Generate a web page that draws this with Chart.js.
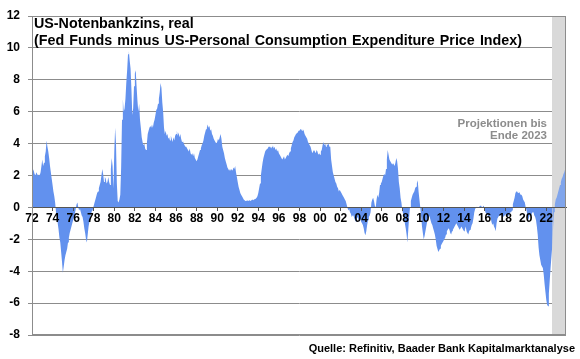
<!DOCTYPE html>
<html>
<head>
<meta charset="utf-8">
<script src="https://cdn.jsdelivr.net/npm/chart.js@4.4.0/dist/chart.umd.min.js"></script>
<style>
  html, body { margin: 0; padding: 0; background: #fff; }
  #wrap { width: 580px; height: 359px; }
</style>
</head>
<body>
<div id="wrap"><canvas id="myChart" width="580" height="359"></canvas></div>
<script>
// Real Fed Funds rate (Fed Funds minus PCE inflation), monthly, Jan 1972 .. Aug 2022
const firstYear = 1972;
const realRate = [
  2.2, 2.4, 2.3, 2.1, 2.0, 2.2, 2.1, 2.0, 2.1, 2.0, 2.2, 2.6,         // 1972
  3.0, 2.6, 2.8, 3.2, 3.5, 4.2, 3.8, 3.5, 3.1, 2.6, 2.2, 1.8,         // 1973
  1.4, 1.0, 0.7, 0.3, -0.3, -0.6, -1.0, -1.4, -1.9, -2.2, -2.8, -3.4, // 1974
  -4.1, -3.7, -3.3, -3.0, -2.8, -2.6, -2.2, -1.9, -1.6, -1.4, -1.2, -1.0, // 1975
  -0.8, -0.6, -0.4, -0.1, 0.2, 0.3, 0.0, -0.2, -0.1, -0.3, -0.5, -0.6, // 1976
  -0.9, -1.3, -1.6, -2.0, -2.2, -1.7, -1.2, -0.9, -0.6, -0.4, -0.2, -0.1, // 1977
  0.1, 0.3, 0.5, 0.7, 0.9, 1.0, 1.2, 1.4, 1.6, 2.0, 2.4, 2.1,         // 1978
  1.6, 1.9, 1.8, 1.5, 1.6, 1.9, 1.6, 1.4, 2.4, 3.1, 2.6, 1.2,         // 1979
  3.5, 5.0, 4.0, 1.5, 0.4, 0.3, 0.5, 0.8, 2.5, 5.5, 6.8, 6.0,         // 1980
  6.2, 6.8, 7.8, 8.6, 9.6, 9.8, 9.2, 8.7, 7.4, 5.8, 6.2, 7.6,         // 1981
  8.4, 8.6, 7.6, 6.7, 6.0, 6.5, 5.5, 5.0, 4.4, 4.1, 3.9, 4.0,         // 1982
  3.7, 3.6, 4.0, 4.6, 4.8, 5.0, 5.1, 5.0, 5.2, 5.0, 5.3, 5.5,         // 1983
  5.8, 6.1, 6.2, 6.5, 6.8, 7.2, 7.8, 7.5, 6.6, 6.0, 5.0, 4.6,         // 1984
  4.8, 4.5, 4.6, 4.3, 4.4, 4.2, 4.5, 4.3, 4.1, 4.4, 4.2, 4.5,         // 1985
  4.6, 4.8, 4.5, 4.7, 4.4, 4.6, 4.3, 4.1, 4.2, 4.0, 3.9, 3.8,         // 1986
  3.8, 3.7, 3.6, 3.5, 3.7, 3.4, 3.3, 3.4, 3.2, 3.4, 3.1, 3.0,         // 1987
  2.9, 3.0, 3.2, 3.4, 3.6, 3.7, 3.9, 4.0, 4.2, 4.5, 4.7, 4.9,         // 1988
  5.0, 5.2, 5.0, 5.1, 4.8, 4.9, 4.6, 4.5, 4.3, 4.2, 4.1, 4.0,         // 1989
  4.1, 4.3, 4.2, 4.4, 4.6, 4.3, 3.8, 3.6, 3.4, 3.1, 2.9, 2.7,         // 1990
  2.5, 2.4, 2.3, 2.4, 2.3, 2.4, 2.3, 2.5, 2.4, 2.6, 2.2, 1.9,         // 1991
  1.6, 1.3, 1.1, 0.9, 0.8, 0.7, 0.6, 0.5, 0.45, 0.4, 0.4, 0.45,       // 1992
  0.4, 0.4, 0.45, 0.4, 0.45, 0.5, 0.45, 0.5, 0.5, 0.55, 0.6, 0.7,     // 1993
  0.9, 1.2, 1.5, 2.0, 2.4, 2.8, 3.1, 3.3, 3.5, 3.6, 3.6, 3.7,         // 1994
  3.8, 3.8, 3.8, 3.7, 3.8, 3.9, 3.7, 3.8, 3.6, 3.7, 3.5, 3.6,         // 1995
  3.4, 3.3, 3.2, 3.1, 3.0, 3.1, 3.2, 3.0, 3.1, 3.2, 3.3, 3.2,         // 1996
  3.4, 3.5, 3.7, 3.9, 4.1, 4.2, 4.4, 4.5, 4.6, 4.6, 4.7, 4.8,         // 1997
  4.8, 4.9, 4.9, 4.8, 4.9, 4.8, 4.6, 4.5, 4.4, 4.3, 4.1, 4.0,         // 1998
  3.9, 3.8, 3.6, 3.4, 3.5, 3.6, 3.5, 3.4, 3.6, 3.5, 3.3, 3.4,         // 1999
  3.3, 3.5, 3.6, 3.9, 4.1, 3.9, 4.0, 3.8, 4.0, 3.9, 4.0, 3.8,         // 2000
  3.8, 3.0, 2.6, 2.2, 2.0, 1.8, 1.6, 1.5, 1.3, 1.2, 1.0, 1.1,         // 2001
  1.0, 0.9, 0.8, 0.7, 0.6, 0.5, 0.4, 0.2, 0.0, -0.2, -0.1, -0.3,      // 2002
  -0.4, -0.6, -0.5, -0.5, -0.7, -0.8, -0.9, -0.7, -0.6, -0.8, -0.9, -0.7, // 2003
  -0.9, -1.0, -1.1, -1.3, -1.6, -1.75, -1.5, -1.1, -0.8, -0.6, -0.5, -0.3, // 2004
  0.3, 0.5, 0.6, 0.4, 0.1, 0.0, 0.5, 0.8, 0.6, 0.9, 1.4, 1.5,         // 2005
  1.6, 1.8, 2.0, 2.1, 2.0, 2.4, 3.0, 3.6, 3.3, 3.0, 2.9, 2.8,         // 2006
  2.7, 2.8, 2.7, 2.6, 2.8, 3.1, 2.9, 2.4, 1.6, 1.2, 0.6, 0.3,         // 2007
  -0.2, -0.4, -0.7, -1.0, -1.3, -1.7, -2.2, -1.4, -0.6, 0.0, 0.4, 0.6, // 2008
  0.8, 0.9, 1.0, 1.2, 1.3, 1.5, 1.7, 1.0, 0.5, 0.0, -0.6, -1.2,       // 2009
  -1.6, -2.0, -1.8, -1.5, -1.2, -0.9, -0.6, -0.5, -0.6, -0.8, -1.0, -1.1, // 2010
  -1.3, -1.5, -1.7, -2.0, -2.4, -2.6, -2.8, -2.7, -2.6, -2.4, -2.3, -2.2, // 2011
  -2.1, -2.0, -1.9, -1.7, -1.5, -1.4, -1.3, -1.4, -1.6, -1.7, -1.5, -1.4, // 2012
  -1.3, -1.2, -1.1, -1.0, -1.1, -1.2, -1.3, -1.4, -1.3, -1.2, -1.3, -1.4, // 2013
  -1.5, -1.4, -1.2, -1.5, -1.6, -1.7, -1.5, -1.4, -1.3, -1.1, -1.0, -0.7, // 2014
  -0.3, -0.1, 0.0, 0.05, 0.0, 0.0, 0.05, 0.1, 0.1, 0.0, 0.05, 0.1,    // 2015
  -0.1, -0.3, -0.4, -0.4, -0.5, -0.6, -0.5, -0.6, -0.9, -1.1, -1.0, -1.2, // 2016
  -1.3, -1.5, -1.0, -0.7, -0.6, -0.5, -0.5, -0.4, -0.5, -0.5, -0.6, -0.5, // 2017
  -0.5, -0.4, -0.5, -0.6, -0.5, -0.4, -0.3, -0.3, -0.2, 0.2, 0.4, 0.6, // 2018
  0.9, 1.0, 1.0, 0.9, 1.0, 0.9, 0.8, 0.8, 0.7, 0.5, 0.4, 0.3,         // 2019
  0.0, -0.2, -0.5, -0.8, -0.6, -0.4, -0.6, -0.4, -0.3, -0.3, -0.5, -0.6, // 2020
  -0.8, -1.2, -1.7, -2.5, -3.0, -3.3, -3.6, -3.7, -3.8, -4.2, -4.8, -5.3, // 2021
  -5.8, -6.1, -6.2, -5.4, -4.6, -3.8, -3.1, -2.4                       // 2022 Jan-Aug
];
// projection Sep 2022 .. Dec 2023
const projection = [-1.2, -0.3, 0.2, 0.5, 0.6, 0.8, 1.0, 1.2, 1.4, 1.6, 1.8, 1.9, 2.1, 2.2, 2.4, 2.5];

const yMin = -8, yMax = 12, yStep = 2;

const titleLines = [
  "US-Notenbankzins, real",
  "(Fed Funds minus US-Personal Consumption Expenditure Price Index)"
];
const projNote = ["Projektionen bis", "Ende 2023"];
const sourceNote = "Quelle: Refinitiv, Baader Bank Kapitalmarktanalyse";

const FONT = "'Liberation Sans', Arial, sans-serif";
const BLUE = 'rgb(98, 145, 238)';
const BLUE_PROJ = 'rgb(128, 165, 236)';
const GRID = '#8c8c8c';

// one label per month
const total = realRate.length + projection.length;
const labels = [];
for (let i = 0; i < total; i++) {
  labels.push((firstYear + Math.floor(i / 12)) + '-' + String(i % 12 + 1).padStart(2, '0'));
}

const histData = realRate.concat(projection.map(() => null));
const projData = realRate.map((v, i) => i === realRate.length - 1 ? v : null).concat(projection);

// draw a line of words spread out to a given width
function spreadText(ctx, text, x, y, width) {
  const words = text.split(' ');
  const used = words.reduce((s, w) => s + ctx.measureText(w).width, 0);
  const gap = (width - used) / (words.length - 1);
  let cx = x;
  words.forEach(w => {
    ctx.fillText(w, cx, y);
    cx += ctx.measureText(w).width + gap;
  });
}

const decorations = {
  id: 'decorations',
  beforeDatasetsDraw(chart) {
    const { ctx, chartArea: a, scales: { x } } = chart;
    const x0 = Math.round(x.getPixelForValue(realRate.length - 0.8));
    ctx.save();
    ctx.fillStyle = '#d9d9d9';
    ctx.fillRect(x0, a.top, a.right - x0, a.bottom - a.top);
    ctx.restore();
  },
  afterDraw(chart) {
    const { ctx, chartArea: a } = chart;
    ctx.save();
    // frame round the plot
    ctx.strokeStyle = GRID;
    ctx.lineWidth = 1;
    ctx.strokeRect(Math.round(a.left) + 0.5, Math.round(a.top) + 0.5,
      Math.round(a.right - a.left) - 1, Math.round(a.bottom - a.top) - 1);

    // title
    ctx.fillStyle = '#000';
    ctx.font = 'bold 14.3px ' + FONT;
    ctx.textAlign = 'left';
    ctx.textBaseline = 'alphabetic';
    ctx.fillText(titleLines[0], 34, 28);
    spreadText(ctx, titleLines[1], 34, 45, 488);

    // projection note
    ctx.fillStyle = '#8c8c8c';
    ctx.font = 'bold 11.5px ' + FONT;
    ctx.textAlign = 'right';
    ctx.fillText(projNote[0], 547, 127);
    ctx.fillText(projNote[1], 547, 139);

    // source
    ctx.fillStyle = '#000';
    ctx.font = 'bold 11px ' + FONT;
    ctx.fillText(sourceNote, 575, 352);
    ctx.restore();
  }
};

const ctx = document.getElementById('myChart');
new Chart(ctx, {
  type: 'line',
  data: {
    labels: labels,
    datasets: [{
      data: histData,
      fill: 'origin',
      backgroundColor: BLUE,
      borderColor: 'transparent',
      borderWidth: 0,
      pointRadius: 0,
      tension: 0
    }, {
      data: projData,
      fill: 'origin',
      backgroundColor: BLUE_PROJ,
      borderColor: 'transparent',
      borderWidth: 0,
      pointRadius: 0,
      tension: 0
    }]
  },
  options: {
    responsive: false,
    animation: false,
    devicePixelRatio: 1,
    layout: { padding: { top: 16, right: 14, bottom: 24, left: 0 } },
    plugins: {
      legend: { display: false },
      tooltip: { enabled: false }
    },
    scales: {
      x: {
        type: 'category',
        position: { y: 0 },
        afterBuildTicks(axis) {
          axis.ticks = axis.ticks.filter(t => t.value % 24 === 0);
        },
        grid: { drawOnChartArea: false, drawTicks: true, tickLength: 3, tickColor: '#555', z: 1 },
        border: { display: true, color: '#555', width: 1, z: 1 },
        ticks: {
          z: 1,
          autoSkip: false,
          maxRotation: 0,
          padding: 1,
          color: '#000',
          font: { family: FONT, size: 12, weight: 'bold' },
          callback(value) {
            const yr = firstYear + Math.floor(value / 12);
            return String(yr % 100).padStart(2, '0');
          }
        }
      },
      y: {
        min: yMin,
        max: yMax,
        afterFit(axis) { axis.width = 32; },
        grid: { color: GRID, lineWidth: 1, tickLength: 4 },
        border: { display: true, color: GRID },
        ticks: {
          stepSize: yStep,
          padding: 8,
          color: '#000',
          font: { family: FONT, size: 12, weight: 'bold' }
        }
      }
    }
  },
  plugins: [decorations]
});
</script>
</body>
</html>
